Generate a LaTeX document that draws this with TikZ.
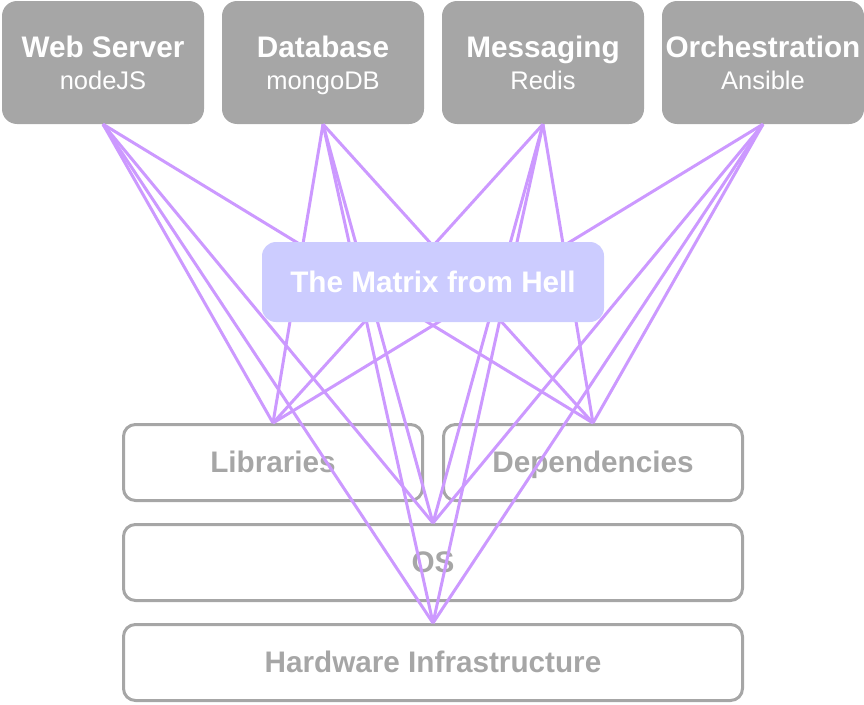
\documentclass[tikz,border=0pt]{standalone}
\usepackage{fontspec}
\setmainfont{Liberation Sans}
\definecolor{stackgray}{HTML}{A6A6A6}
\definecolor{hellfill}{HTML}{CCCCFF}
\definecolor{wire}{HTML}{CC99FF}
\newcommand{\techfont}{\fontsize{25.5}{32}\selectfont\mdseries}
\newcommand{\captop}{\rule{0pt}{27.5pt}}

\begin{document}
\begin{tikzpicture}[x=1pt, y=-1pt,
    service/.style ={rectangle, rounded corners=15pt, fill=stackgray, text=white, inner sep=0pt, minimum width=202pt, minimum height=123pt, align=center, font=\fontsize{29.7}{32}\selectfont\bfseries},
    layer/.style ={rectangle, rounded corners=12pt, draw=stackgray, line width=3pt, text=stackgray, inner sep=0pt, minimum height=76pt, text height=27pt, text depth=6.4pt, font=\fontsize{29.7}{32}\selectfont\bfseries},
    hell/.style ={rectangle, rounded corners=14pt, fill=hellfill, text=white, inner sep=0pt, minimum width=342pt, minimum height=80pt, text height=27pt, text depth=6.4pt, font=\fontsize{29.7}{32}\selectfont\bfseries},
    link/.style ={draw=wire, line width=3pt}]
   \useasboundingbox (0,0) rectangle (864,704);
   % services on top
   \node[service] (web)  at (103,62.5) {\captop Web Server\\\techfont nodeJS\vphantom{g}};
   \node[service] (db)   at (323,62.5) {\captop Database\\\techfont mongoDB};
   \node[service] (msg)  at (543,62.5) {\captop Messaging\\\techfont Redis\vphantom{g}};
   \node[service] (orch) at (763,62.5) {\captop Orchestration\\\techfont Ansible\vphantom{g}};
   % stack below
   \node[layer, minimum width=299pt] (lib) at (273,462.5) {Libraries};
   \node[layer, minimum width=299pt] (dep) at (593,462.5) {Dependencies};
   \node[layer, minimum width=619pt] (os)  at (433,562.5) {OS};
   \node[layer, minimum width=619pt] (hw)  at (433,662.5) {Hardware Infrastructure};
   % every service to every layer
   \draw[link] (web.south) -- (lib.north);
   \draw[link] (web.south) -- (dep.north);
   \draw[link] (web.south) -- (os.north);
   \draw[link] (web.south) -- (hw.north);
   \draw[link] (db.south) -- (lib.north);
   \draw[link] (db.south) -- (dep.north);
   \draw[link] (db.south) -- (os.north);
   \draw[link] (db.south) -- (hw.north);
   \draw[link] (msg.south) -- (lib.north);
   \draw[link] (msg.south) -- (dep.north);
   \draw[link] (msg.south) -- (os.north);
   \draw[link] (msg.south) -- (hw.north);
   \draw[link] (orch.south) -- (lib.north);
   \draw[link] (orch.south) -- (dep.north);
   \draw[link] (orch.south) -- (os.north);
   \draw[link] (orch.south) -- (hw.north);
   \node[hell] (matrix) at (433,282) {The Matrix from Hell};
 \end{tikzpicture}
\end{document}
